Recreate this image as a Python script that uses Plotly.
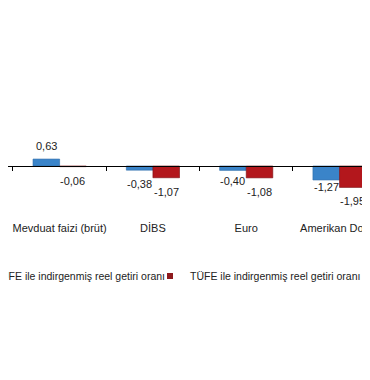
import plotly.graph_objects as go

categories = ["Mevduat faizi (brüt)", "DİBS", "Euro", "Amerikan Doları"]
ufe_values = [0.63, -0.38, -0.40, -1.27]
tufe_values = [-0.06, -1.07, -1.08, -1.95]
series_names = ["ÜFE ile indirgenmiş reel getiri oranı", "TÜFE ile indirgenmiş reel getiri oranı"]

BLUE = "#3A84C9"
RED = "#B3171C"
FONT = "Liberation Sans, Arial, sans-serif"
TXT = "#222222"

W, H = 370, 380
OFF = 8                      # page body margin
TOP, BOTTOM = 20 - OFF, 210 - OFF
Y_MIN, Y_MAX = -4.0, 13.27
PX_PER_CAT = 93.3
X_MIN = -0.639 + OFF / PX_PER_CAT
X_MAX = X_MIN + W / PX_PER_CAT
BARGAP = 0.43

fig = go.Figure()
fig.add_trace(go.Bar(x=categories, y=ufe_values, name=series_names[0],
                     marker=dict(color=BLUE, line=dict(color="#2A6AA8", width=0.6)),
                     showlegend=False))
fig.add_trace(go.Bar(x=categories, y=tufe_values, name=series_names[1],
                     marker=dict(color=RED, line=dict(color="#7A0F12", width=0.6)),
                     showlegend=False))

# legend entries (small square markers)
fig.add_trace(go.Scatter(x=[None], y=[None], mode="markers", name=series_names[0],
                         marker=dict(symbol="square", size=6, color=BLUE), legend="legend"))
fig.add_trace(go.Scatter(x=[None], y=[None], mode="markers", name=series_names[1],
                         marker=dict(symbol="square", size=6, color="#8E1A1E"), legend="legend2"))

# data labels
bar_w = PX_PER_CAT * (1 - BARGAP) / 2
nudge = {(0, 2): 3, (0, 3): 7}
annotations = []
for s, vals in enumerate([ufe_values, tufe_values]):
    xs = -bar_w / 2 if s == 0 else bar_w / 2
    for i, (c, v) in enumerate(zip(categories, vals)):
        txt = f"{v:.2f}".replace(".", ",")
        if v >= 0:
            annotations.append(dict(x=c, y=v, text=txt, showarrow=False, xshift=xs,
                                    yanchor="bottom", yshift=5,
                                    font=dict(family=FONT, size=11, color=TXT)))
        else:
            annotations.append(dict(x=c, y=v, text=txt, showarrow=False, xshift=xs,
                                    yanchor="top", yshift=-6 + nudge.get((s, i), 0),
                                    font=dict(family=FONT, size=11, color=TXT)))

zero_pos = (0 - Y_MIN) / (Y_MAX - Y_MIN)
plot_h = BOTTOM - TOP

def ypaper(page_y):
    return (BOTTOM - (page_y - OFF)) / plot_h

def xpaper(page_x):
    return (page_x - OFF) / W

fig.update_layout(
    width=W, height=H,
    margin=dict(l=0, r=0, t=TOP, b=H - BOTTOM, autoexpand=False),
    paper_bgcolor="white", plot_bgcolor="white",
    barmode="group", bargap=BARGAP, bargroupgap=0,
    font=dict(family=FONT, size=11, color=TXT),
    annotations=annotations,
    xaxis=dict(type="category", range=[X_MIN, X_MAX], anchor="free", position=zero_pos,
               showline=True, linecolor="#000000", linewidth=1,
               ticks="outside", ticklen=4, tickcolor="#000000", tickson="boundaries",
               showgrid=False, zeroline=False, automargin=False, tickangle=0,
               ticklabelstandoff=52,
               tickfont=dict(family=FONT, size=11, color=TXT)),
    yaxis=dict(range=[Y_MIN, Y_MAX], visible=False, showgrid=False, zeroline=False,
               automargin=False),
    legend=dict(orientation="h", x=xpaper(-39), xanchor="left", y=ypaper(276), yanchor="middle",
                font=dict(family=FONT, size=10.5, color=TXT), bgcolor="rgba(0,0,0,0)",
                itemwidth=30),
    legend2=dict(orientation="h", x=xpaper(150), xanchor="left", y=ypaper(276), yanchor="middle",
                 font=dict(family=FONT, size=10.5, color=TXT), bgcolor="rgba(0,0,0,0)",
                 itemwidth=30),
    showlegend=True,
)

fig.write_html("out.html")
